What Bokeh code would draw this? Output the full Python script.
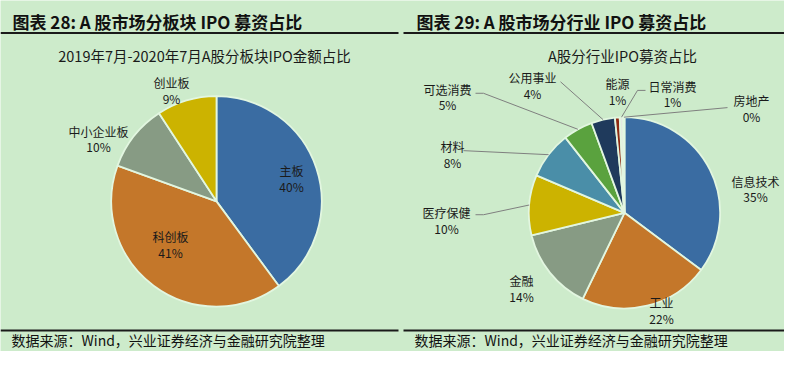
import math
from bokeh.plotting import figure
from bokeh.models import Range1d
from bokeh.core.properties import value
from bokeh.embed import file_html
from bokeh.resources import INLINE

# ---------------- data ----------------
board_names = ["主板", "科创板", "中小企业板", "创业板"]
board_values = [39.9, 40.6, 10.3, 9.2]

industry_names = ["信息技术", "工业", "金融", "医疗保健", "材料", "可选消费",
                  "公用事业", "能源", "日常消费", "房地产"]
industry_values = [35.2, 22.0, 14.0, 10.2, 8.0, 5.0, 4.0, 0.8, 0.6, 0.2]

title_left = "图表 28:  A 股市场分板块 IPO 募资占比"
title_right = "图表 29:  A 股市场分行业 IPO 募资占比"
subtitle_left = "2019年7月-2020年7月A股分板块IPO金额占比"
subtitle_right = "A股分行业IPO募资占比"
source_text = "数据来源：Wind，兴业证券经济与金融研究院整理"

# ---------------- styles / layout ----------------
BG = "#CDEBCB"
SEP = "#E2F6E0"
FONT = value("Noto Sans CJK SC")
board_colors = ["#3A6CA2", "#C4772A", "#879B84", "#CCB300"]
industry_colors = ["#3A6CA2", "#C4772A", "#879B84", "#CCB300", "#4A8EA8",
                   "#5AA23E", "#1F3A5C", "#8E2A12", "#E4E8E2", "#86A6CC"]

W, H = 784, 351
SY = H / 367.0


def Y(yy):  # layout row (0 = top) -> data y
    return (367 - yy) * SY


left_center, left_r = (216, 210), 110
right_center, right_r = (624, 222), 100

# label anchors (name line) in layout rows
board_label_pos = [(291, 178), (170, 247), (98, 137), (171, 86)]
industry_label_pos = [(755, 189), (661, 316), (521, 293), (446, 222), (452, 153),
                      (447, 93), (532, 81), (617, 87), (672, 90), (751, 105)]
# leader start points (label side), None = no leader
industry_leader = [None, None, None, [(475, 224), (483, 224)], [(463, 157)],
                   [(475, 97), (483, 97)], [(560, 85)], None,
                   [(645, 94), (637, 94)], [(727, 112)]]

p = figure(width=W, height=H, output_backend="svg", toolbar_location=None,
           x_range=Range1d(0, W), y_range=Range1d(0, H),
           min_border=0, background_fill_color=BG, border_fill_color=BG)
p.axis.visible = False
p.grid.visible = False
p.outline_line_color = None


def draw_pie(vals, colors, center, r):
    total = sum(vals)
    cum = 0.0
    starts, ends, mids = [], [], []
    for v in vals:
        a0 = cum / total
        cum += v
        a1 = cum / total
        starts.append(math.pi / 2 - 2 * math.pi * a0)
        ends.append(math.pi / 2 - 2 * math.pi * a1)
        mids.append((a0 + a1) / 2)
    p.wedge(x=[center[0]] * len(vals), y=[Y(center[1])] * len(vals), radius=r * SY,
            start_angle=starts, end_angle=ends, direction="clock",
            fill_color=colors, line_color=SEP, line_width=1.8)
    return mids, total


def labels(names, vals, total, pos):
    xs, ys, txt = [], [], []
    for n, v, (lx, ly) in zip(names, vals, pos):
        xs += [lx, lx]
        ys += [Y(ly), Y(ly + 16)]
        txt += [n, f"{round(v / total * 100)}%"]
    p.text(x=xs, y=ys, text=txt, text_font=FONT, text_font_size="12px",
           text_color="#1A1A1A", text_align="center", text_baseline="middle")


mids_l, tot_l = draw_pie(board_values, board_colors, left_center, left_r)
labels(board_names, board_values, tot_l, board_label_pos)

mids_r, tot_r = draw_pie(industry_values, industry_colors, right_center, right_r)
lx, ly = [], []
for m, pts in zip(mids_r, industry_leader):
    if pts is None:
        continue
    ang = 2 * math.pi * m
    ex = right_center[0] + right_r * SY * math.sin(ang)
    ey = Y(right_center[1]) + right_r * SY * math.cos(ang)
    lx.append([q[0] for q in pts] + [ex])
    ly.append([Y(q[1]) for q in pts] + [ey])
p.multi_line(xs=lx, ys=ly, line_color="#7F7F7F", line_width=1)
labels(industry_names, industry_values, tot_r, industry_label_pos)

# titles
p.text(x=[12, 416], y=[Y(22), Y(22)], text=[title_left, title_right], text_font=FONT,
       text_font_size="17px", text_font_style="bold", text_color="#111111",
       text_align="left", text_baseline="middle")
p.text(x=[204, 622], y=[Y(58), Y(58)], text=[subtitle_left, subtitle_right], text_font=FONT,
       text_font_size="14.5px", text_color="#1A1A1A", text_align="center",
       text_baseline="middle")
# rules
p.segment(x0=[0, 403, 0, 403], y0=[Y(34), Y(34), Y(345), Y(345)],
          x1=[398, 800, 398, 800], y1=[Y(34), Y(34), Y(345), Y(345)],
          line_color="#1A1A1A", line_width=2)
# source
p.text(x=[11, 414], y=[Y(355), Y(355)], text=[source_text, source_text], text_font=FONT,
       text_font_size="14px", text_color="#111111", text_align="left",
       text_baseline="middle")

open("out.html", "w").write(file_html(p, INLINE))
